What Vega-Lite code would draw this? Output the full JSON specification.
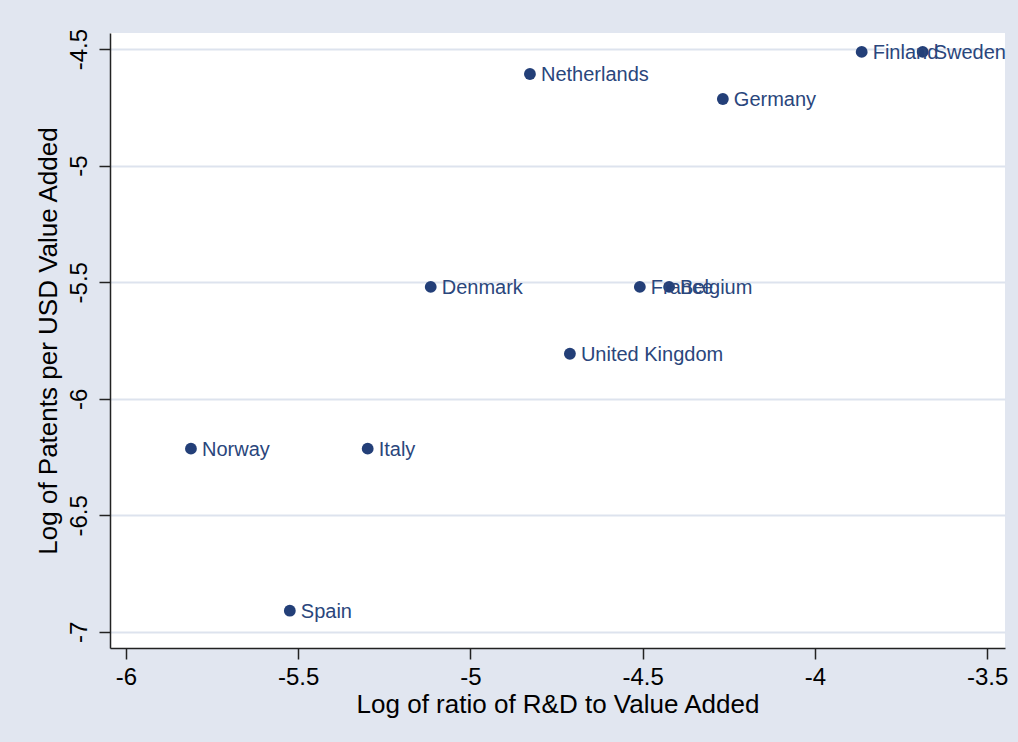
{
  "$schema": "https://vega.github.io/schema/vega-lite/v6.json",
  "width": 895,
  "height": 615,
  "autosize": {"type": "none"},
  "padding": {"left": 110, "top": 33, "right": 13, "bottom": 94},
  "background": "#e1e6f0",
  "title": {
    "text": "Figure 3.5: Patents vs. R&D, Country Averages",
    "font": "Liberation Serif",
    "fontSize": 25,
    "fontWeight": "bold",
    "color": "#000000",
    "anchor": "middle",
    "frame": "group",
    "offset": 28,
    "baseline": "alphabetic",
    "dx": -47
  },
  "config": {
    "view": {"fill": "#ffffff", "stroke": null},
    "axis": {
      "labelFont": "Liberation Sans",
      "titleFont": "Liberation Sans",
      "labelColor": "#000000",
      "titleColor": "#000000",
      "titleFontWeight": "normal",
      "domainColor": "#222222",
      "domainWidth": 1.5,
      "tickColor": "#222222",
      "tickWidth": 1.5,
      "tickSize": 11
    }
  },
  "data": {
    "values": [
      {"country": "Finland", "rd": -3.864, "patents": -4.512},
      {"country": "Sweden", "rd": -3.687, "patents": -4.512},
      {"country": "Netherlands", "rd": -4.827, "patents": -4.607},
      {"country": "Germany", "rd": -4.267, "patents": -4.714},
      {"country": "Denmark", "rd": -5.115, "patents": -5.52},
      {"country": "France", "rd": -4.508, "patents": -5.52},
      {"country": "Belgium", "rd": -4.423, "patents": -5.52},
      {"country": "United Kingdom", "rd": -4.711, "patents": -5.807},
      {"country": "Norway", "rd": -5.811, "patents": -6.214},
      {"country": "Italy", "rd": -5.298, "patents": -6.214},
      {"country": "Spain", "rd": -5.524, "patents": -6.909}
    ]
  },
  "encoding": {
    "x": {
      "field": "rd",
      "type": "quantitative",
      "scale": {"domain": [-6.046, -3.448], "nice": false, "zero": false},
      "axis": {
        "title": "Log of ratio of R&D to Value Added",
        "values": [-6, -5.5, -5, -4.5, -4, -3.5],
        "labelExpr": "'' + datum.value",
        "grid": false,
        "labelFontSize": 24,
        "titleFontSize": 26,
        "labelPadding": 6,
        "titlePadding": 2,
        "labelFlush": false
      }
    },
    "y": {
      "field": "patents",
      "type": "quantitative",
      "scale": {"domain": [-7.069, -4.431], "nice": false, "zero": false},
      "axis": {
        "title": "Log of Patents per USD Value Added",
        "values": [-7, -6.5, -6, -5.5, -5, -4.5],
        "labelExpr": "'' + datum.value",
        "grid": true,
        "gridColor": "#dde3ee",
        "gridWidth": 2,
        "labelAngle": -90,
        "labelAlign": "center",
        "labelBaseline": "bottom",
        "labelFontSize": 24,
        "titleFontSize": 26,
        "labelPadding": 8,
        "titlePadding": 6,
        "labelFlush": false
      }
    }
  },
  "layer": [
    {
      "mark": {"type": "point", "filled": true, "shape": "circle", "size": 140, "color": "#233f78", "opacity": 1}
    },
    {
      "mark": {"type": "text", "align": "left", "baseline": "middle", "dx": 11, "dy": 1, "font": "Liberation Sans", "fontSize": 20, "color": "#2a467c"},
      "encoding": {"text": {"field": "country"}}
    }
  ]
}
